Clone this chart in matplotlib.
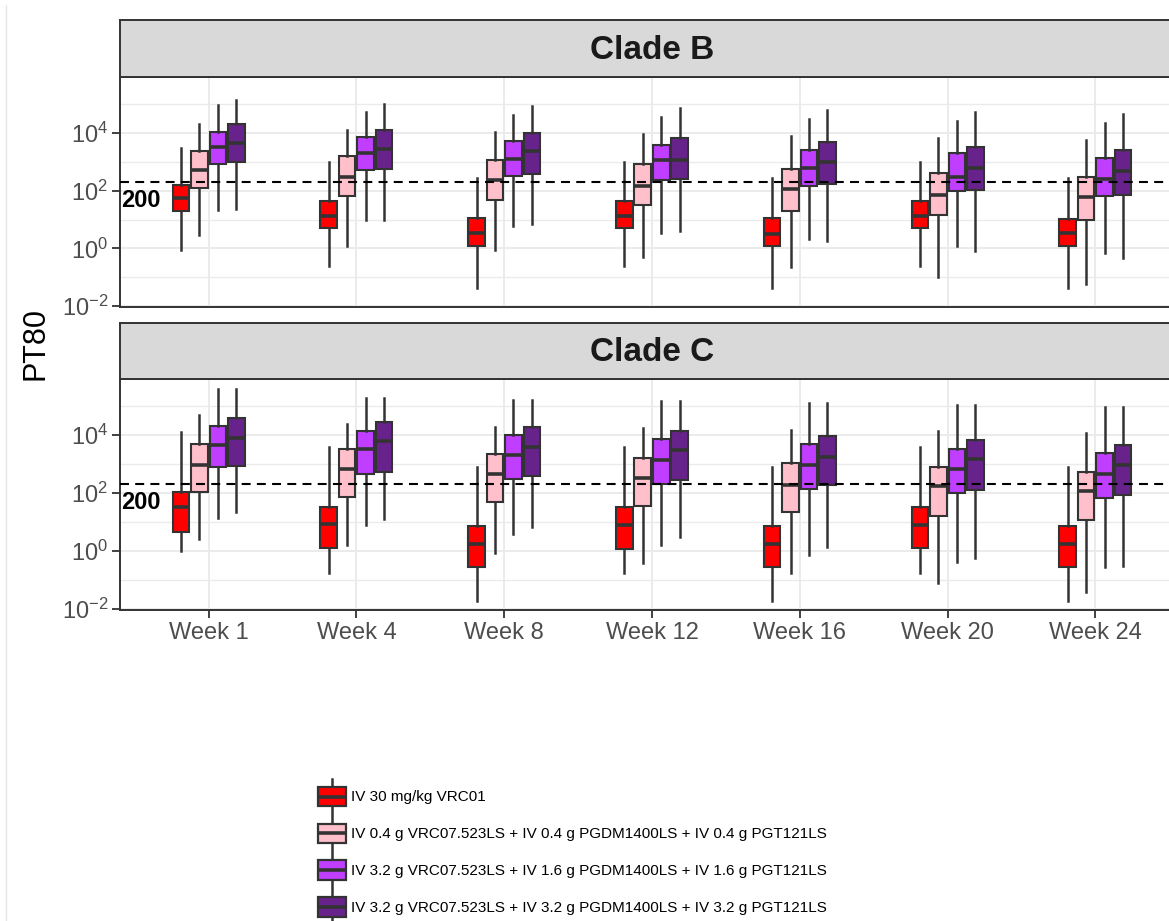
import numpy as np
import matplotlib
matplotlib.use("Agg")
import matplotlib.pyplot as plt
from matplotlib.legend_handler import HandlerBase
from matplotlib.patches import Rectangle, Patch
from matplotlib.lines import Line2D
from matplotlib.ticker import LogLocator, FixedLocator, NullFormatter

plt.rcParams['font.family'] = ['Liberation Sans', 'DejaVu Sans']

# categories and groups
weeks = ["Week 1", "Week 4", "Week 8", "Week 12", "Week 16", "Week 20", "Week 24"]
groups = ["IV 30 mg/kg VRC01",
          "IV 0.4 g VRC07.523LS + IV 0.4 g PGDM1400LS + IV 0.4 g PGT121LS",
          "IV 3.2 g VRC07.523LS + IV 1.6 g PGDM1400LS + IV 1.6 g PGT121LS",
          "IV 3.2 g VRC07.523LS + IV 3.2 g PGDM1400LS + IV 3.2 g PGT121LS"]
colors = ["#FF0000", "#FFC0CB", "#BF3EFF", "#68228B"]

# box stats per week, log10 scale: (whisker low, q1, median, q3, whisker high)
cladeB_g1 = [(-0.04, 1.28, 1.73, 2.20, 3.49), (-0.62, 0.71, 1.11, 1.66, 2.98),
             (-1.36, 0.07, 0.53, 1.05, 2.44), (-0.62, 0.70, 1.11, 1.66, 2.98),
             (-1.36, 0.07, 0.51, 1.05, 2.44), (-0.62, 0.71, 1.11, 1.63, 2.98),
             (-1.36, 0.07, 0.53, 1.02, 2.44)]
cladeB_g2 = [(0.48, 2.09, 2.71, 3.38, 4.30), (0.10, 1.83, 2.48, 3.21, 4.09),
             (-0.07, 1.68, 2.37, 3.06, 4.03), (-0.30, 1.51, 2.17, 2.92, 3.95),
             (-0.64, 1.31, 2.06, 2.75, 3.90), (-0.99, 1.16, 1.85, 2.63, 3.82),
             (-1.24, 0.99, 1.77, 2.48, 3.76)]
cladeB_g3 = [(1.34, 2.94, 3.52, 4.04, 4.96), (0.99, 2.71, 3.29, 3.86, 4.74),
             (0.77, 2.52, 3.09, 3.72, 4.64), (0.54, 2.37, 3.06, 3.58, 4.56),
             (0.31, 2.17, 2.80, 3.41, 4.49), (0.10, 2.00, 2.48, 3.29, 4.41),
             (-0.15, 1.83, 2.42, 3.13, 4.36)]
cladeB_g4 = [(1.38, 3.01, 3.67, 4.30, 5.16), (1.00, 2.75, 3.44, 4.11, 5.01),
             (0.83, 2.58, 3.38, 3.99, 4.93), (0.60, 2.40, 3.06, 3.84, 4.85),
             (0.24, 2.23, 3.01, 3.69, 4.78), (-0.09, 2.03, 2.77, 3.53, 4.74),
             (-0.33, 1.86, 2.67, 3.41, 4.67)]

cladeC_g1 = [(0.02, 0.66, 1.51, 2.03, 4.11), (-0.74, 0.10, 0.94, 1.53, 3.59),
             (-1.71, -0.53, 0.25, 0.88, 2.91), (-0.74, 0.08, 0.89, 1.53, 3.59),
             (-1.71, -0.53, 0.25, 0.88, 2.91), (-0.74, 0.10, 0.91, 1.53, 3.59),
             (-1.71, -0.53, 0.25, 0.88, 2.91)]
cladeC_g2 = [(0.43, 2.05, 2.99, 3.69, 4.69), (0.22, 1.87, 2.84, 3.51, 4.38),
             (-0.07, 1.69, 2.67, 3.36, 4.30), (-0.42, 1.55, 2.53, 3.23, 4.24),
             (-0.76, 1.34, 2.30, 3.05, 4.18), (-1.11, 1.22, 2.24, 2.90, 4.13),
             (-1.40, 1.06, 2.07, 2.74, 4.07)]
cladeC_g3 = [(1.14, 2.90, 3.65, 4.32, 5.59), (0.91, 2.67, 3.51, 4.15, 5.27),
             (0.59, 2.50, 3.31, 4.00, 5.21), (0.22, 2.32, 3.14, 3.86, 5.17),
             (-0.13, 2.16, 2.96, 3.69, 5.10), (-0.36, 1.99, 2.82, 3.54, 5.04),
             (-0.53, 1.84, 2.65, 3.40, 4.98)]
cladeC_g4 = [(1.35, 2.93, 3.92, 4.59, 5.59), (1.12, 2.74, 3.80, 4.44, 5.27),
             (0.85, 2.59, 3.59, 4.29, 5.21), (0.49, 2.45, 3.48, 4.13, 5.17),
             (0.13, 2.28, 3.26, 3.98, 5.10), (-0.22, 2.10, 3.17, 3.83, 5.04),
             (-0.51, 1.95, 2.96, 3.65, 4.98)]

panels = [("Clade B", [cladeB_g1, cladeB_g2, cladeB_g3, cladeB_g4]),
          ("Clade C", [cladeC_g1, cladeC_g2, cladeC_g3, cladeC_g4])]
threshold = 200
major_ticks = [1e-2, 1e0, 1e2, 1e4]
minor_grid = [1e-1, 1e1, 1e3, 1e5]

W, H = 1169, 921
fig = plt.figure(figsize=(W / 100, H / 100), dpi=100)


def rect(l, t, r, b):
    return [l / W, 1 - b / H, (r - l) / W, (b - t) / H]


EDGE = "#333333"
GRID = "#EBEBEB"
offsets = [-0.1875, -0.0625, 0.0625, 0.1875]

panel_boxes = [(77, 307), (379, 610)]
strip_boxes = [(20, 77), (323, 379)]

for k, (title, data) in enumerate(panels):
    ax = fig.add_axes(rect(120, panel_boxes[k][0], 1184, panel_boxes[k][1]))
    ax.set_yscale("log")
    ax.set_xlim(-0.6, len(weeks) - 0.4)
    ax.set_ylim(10 ** -2.03, 10 ** 5.94)

    ax.yaxis.set_major_locator(FixedLocator(major_ticks))
    ax.yaxis.set_minor_locator(FixedLocator(minor_grid))
    ax.yaxis.set_minor_formatter(NullFormatter())
    ax.grid(True, which="major", axis="y", color=GRID, lw=1.4, zorder=0)
    ax.grid(True, which="minor", axis="y", color=GRID, lw=1.0, zorder=0)
    ax.set_xticks(range(len(weeks)))
    ax.grid(True, which="major", axis="x", color=GRID, lw=1.4, zorder=0)
    ax.set_axisbelow(True)
    ax.tick_params(axis="y", which="minor", length=0)
    ax.tick_params(axis="y", which="major", length=5.5, width=1.3, color=EDGE,
                   labelsize=17, labelcolor="#4D4D4D", pad=3)
    if k == 1:
        ax.set_xticklabels(weeks)
        ax.tick_params(axis="x", length=5.5, width=1.3, color=EDGE,
                       labelsize=17, labelcolor="#4D4D4D", pad=3)
    else:
        ax.tick_params(axis="x", length=0, labelbottom=False)
    for s in ax.spines.values():
        s.set_color(EDGE)
        s.set_linewidth(1.4)

    for g, series in enumerate(data):
        stats = []
        for lo, q1, med, q3, hi in series:
            stats.append({"whislo": 10 ** lo, "q1": 10 ** q1, "med": 10 ** med,
                          "q3": 10 ** q3, "whishi": 10 ** hi, "fliers": []})
        pos = np.arange(len(weeks)) + offsets[g]
        ax.bxp(stats, positions=pos, widths=0.112, patch_artist=True,
               showfliers=False, showcaps=False, manage_ticks=False,
               boxprops=dict(facecolor=colors[g], edgecolor=EDGE, lw=1.5),
               whiskerprops=dict(color=EDGE, lw=1.8),
               medianprops=dict(color=EDGE, lw=2.6, solid_capstyle="butt"),
               zorder=3)

    ax.axhline(threshold, color="black", lw=1.5, dashes=(4.3, 3), zorder=4)
    ax.annotate(str(threshold), xy=(-0.59, threshold), xytext=(0, -5),
                textcoords="offset points", ha="left", va="top",
                fontsize=17, fontweight="bold", color="black", zorder=5)

    sax = fig.add_axes(rect(120, strip_boxes[k][0], 1184, strip_boxes[k][1]))
    sax.set_facecolor("#D9D9D9")
    sax.set_xticks([])
    sax.set_yticks([])
    for s in sax.spines.values():
        s.set_color(EDGE)
        s.set_linewidth(1.4)
    sax.text(0.5, 0.47, title, transform=sax.transAxes, ha="center", va="center",
             fontsize=24, fontweight="bold", color="#1A1A1A")

fig.text(35 / W, 1 - 343 / H, "PT80", rotation=90, ha="center", va="center",
         fontsize=22, color="black")

# faint frame line on the left edge
fig.add_artist(Line2D([6 / W, 6 / W], [0, 1 - 5 / H], transform=fig.transFigure,
                      color="#E6E6E6", lw=1.0))


class BoxKey(HandlerBase):
    def create_artists(self, legend, orig_handle, xdescent, ydescent,
                       width, height, fontsize, trans):
        x0 = -xdescent
        cy = -ydescent + height / 2
        bh = 14.0           # box height (pt)
        wl = 5.5            # whisker stub (pt)
        b0, b1 = cy - bh / 2, cy + bh / 2
        cx = x0 + width / 2
        box = Rectangle((x0, b0), width, bh, facecolor=orig_handle.get_facecolor(),
                        edgecolor=EDGE, lw=1.6, transform=trans)
        w1 = Line2D([cx, cx], [b0 - wl, b0], color=EDGE, lw=1.8, transform=trans)
        w2 = Line2D([cx, cx], [b1, b1 + wl], color=EDGE, lw=1.8, transform=trans)
        md = Line2D([x0, x0 + width], [cy, cy], color=EDGE, lw=2.6,
                    solid_capstyle="butt", transform=trans)
        return [w1, w2, box, md]


fs = 11
fpx = fs * 100 / 72
handles = [Patch(facecolor=c) for c in colors]
fig.legend(handles, groups, handler_map={Patch: BoxKey()},
           loc="upper left", bbox_to_anchor=(318 / W, 1 - 785 / H),
           frameon=False, fontsize=fs,
           borderpad=0, borderaxespad=0,
           handlelength=28 / fpx, handleheight=30 / fpx,
           handletextpad=0.3, labelspacing=13.5 / fpx,
           labelcolor="black")

fig.savefig("out.png", dpi=100)
